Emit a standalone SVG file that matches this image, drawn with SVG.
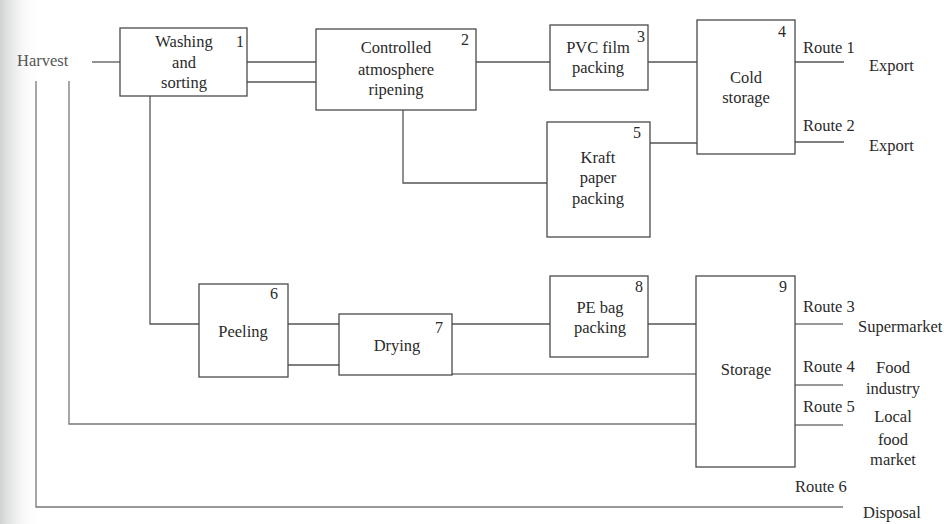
<svg xmlns="http://www.w3.org/2000/svg" width="944" height="524" viewBox="0 0 944 524">
<defs>
<linearGradient id="shade" x1="0" y1="0" x2="1" y2="0">
<stop offset="0" stop-color="#cfd3d0"/>
<stop offset="1" stop-color="#ffffff" stop-opacity="0"/>
</linearGradient>
<style>
.box{fill:#fff;stroke:#4a4a4a;stroke-width:1.3}
.ln{fill:none;stroke:#555;stroke-width:1.3}
.lt{fill:none;stroke:#777;stroke-width:1.3}
text{font-family:"Liberation Serif","Times New Roman",serif;font-size:16.5px;fill:#2a2a2a}
.c{text-anchor:middle}
.n{font-size:16px}
.g{fill:#555}
</style>
</defs>
<rect width="944" height="524" fill="#fff"/>
<rect x="0" y="0" width="40" height="524" fill="url(#shade)"/>
<g id="connectors">
<path class="ln" d="M92 62H120"/>
<path class="ln" d="M247 62H316M247 82H316"/>
<path class="ln" d="M476 62H550"/>
<path class="ln" d="M648 62H697"/>
<path class="ln" d="M403 110V183H547"/>
<path class="ln" d="M650 143H697"/>
<path class="ln" d="M795 62H844M795 142H844"/>
<path class="ln" d="M150 96V324H199"/>
<path class="ln" d="M288 324H339M288 365H339"/>
<path class="ln" d="M452 324H550M648 324H696"/>
<path class="lt" d="M452 374H696"/>
<path class="lt" d="M69 81V424H696"/>
<path class="lt" d="M36 81V507H843"/>
<path class="lt" d="M795 324H843M795 385H843M795 425H843"/>
</g>
<text x="17" y="66" class="g">Harvest</text>
<g id="n1">
<rect class="box" x="120" y="28" width="127" height="68"/>
<text class="c" x="184" y="47">Washing</text>
<text class="c" x="184" y="68">and</text>
<text class="c" x="184" y="88">sorting</text>
<text class="n" x="236" y="47">1</text>
</g>
<g id="n2">
<rect class="box" x="316" y="29" width="160" height="81"/>
<text class="c" x="396" y="53">Controlled</text>
<text class="c" x="396" y="75">atmosphere</text>
<text class="c" x="396" y="95">ripening</text>
<text class="n" x="461" y="45">2</text>
</g>
<g id="n3">
<rect class="box" x="550" y="25" width="98" height="65"/>
<text class="c" x="598" y="53">PVC film</text>
<text class="c" x="598" y="73">packing</text>
<text class="n" x="637" y="42">3</text>
</g>
<g id="n4">
<rect class="box" x="697" y="20" width="98" height="134"/>
<text class="c" x="746" y="83">Cold</text>
<text class="c" x="746" y="103">storage</text>
<text class="n" x="778" y="37">4</text>
</g>
<g id="n5">
<rect class="box" x="547" y="122" width="103" height="115"/>
<text class="c" x="598" y="163">Kraft</text>
<text class="c" x="598" y="183">paper</text>
<text class="c" x="598" y="204">packing</text>
<text class="n" x="633" y="138">5</text>
</g>
<g id="n6">
<rect class="box" x="199" y="284" width="89" height="93"/>
<text class="c" x="243" y="337">Peeling</text>
<text class="n" x="270" y="299">6</text>
</g>
<g id="n7">
<rect class="box" x="339" y="314" width="113" height="61"/>
<text class="c" x="397" y="351">Drying</text>
<text class="n" x="435" y="333">7</text>
</g>
<g id="n8">
<rect class="box" x="550" y="276" width="98" height="81"/>
<text class="c" x="600" y="313">PE bag</text>
<text class="c" x="600" y="333">packing</text>
<text class="n" x="635" y="292">8</text>
</g>
<g id="n9">
<rect class="box" x="696" y="276" width="99" height="191"/>
<text class="c" x="746" y="375">Storage</text>
<text class="n" x="779" y="292">9</text>
</g>
<g id="labels">
<text x="803" y="53">Route 1</text>
<text x="869" y="71">Export</text>
<text x="803" y="131">Route 2</text>
<text x="869" y="151">Export</text>
<text x="803" y="312">Route 3</text>
<text x="858" y="332">Supermarket</text>
<text x="803" y="372">Route 4</text>
<text class="c" x="893" y="373">Food</text>
<text class="c" x="893" y="394">industry</text>
<text x="803" y="412">Route 5</text>
<text class="c" x="893" y="422">Local</text>
<text class="c" x="893" y="445">food</text>
<text class="c" x="893" y="465">market</text>
<text x="795" y="492">Route 6</text>
<text x="863" y="518">Disposal</text>
</g>
</svg>
